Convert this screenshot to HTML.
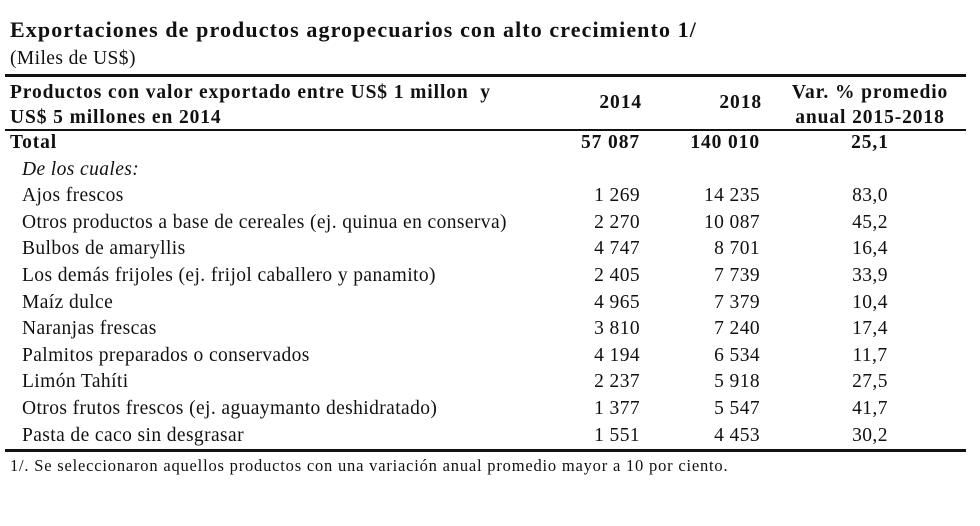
<!DOCTYPE html>
<html><head><meta charset="utf-8"><style>
body{margin:0;width:980px;height:526px;background:#fff;font-family:"Liberation Serif",serif;color:#111;position:relative;overflow:hidden}
.a{position:absolute;white-space:nowrap}
.t{font-weight:bold;font-size:22px;letter-spacing:1.1px}
.r{font-size:19.5px;letter-spacing:0.4px}
.b{font-weight:bold;letter-spacing:0.9px}
.n{text-align:right}
.c{text-align:center}
.line{position:absolute;left:5px;width:961px;background:#111}
</style></head><body>
<div class="a t" style="left:10px;top:17px">Exportaciones de productos agropecuarios con alto crecimiento 1/</div>
<div class="a r" style="left:10px;top:48px">(Miles de US$)</div>
<div class="line" style="top:74px;height:3px"></div>
<div class="a r b" style="left:10px;top:80px;line-height:25px">Productos con valor exportado entre US$ 1 millon&nbsp; y<br>US$ 5 millones en 2014</div>
<div class="a r b n" style="left:560px;width:82px;top:92px">2014</div>
<div class="a r b n" style="left:680px;width:82px;top:92px">2018</div>
<div class="a r b c" style="left:770px;width:200px;top:80px;line-height:25px">Var. % promedio<br>anual 2015-2018</div>
<div class="line" style="top:129px;height:1.5px"></div>
<div id="rows"></div>
<div class="line" style="top:449px;height:3px"></div>
<div class="a" style="left:10px;top:456px;font-size:16.5px;letter-spacing:0.8px">1/. Se seleccionaron aquellos productos con una variación anual promedio mayor a 10 por ciento.</div>
<script>
const products=["Total","De los cuales:","Ajos frescos","Otros productos a base de cereales (ej. quinua en conserva)","Bulbos de amaryllis","Los demás frijoles (ej. frijol caballero y panamito)","Maíz dulce","Naranjas frescas","Palmitos preparados o conservados","Limón Tahíti","Otros frutos frescos (ej. aguaymanto deshidratado)","Pasta de caco sin desgrasar"];
const v2014=["57 087","","1 269","2 270","4 747","2 405","4 965","3 810","4 194","2 237","1 377","1 551"];
const v2018=["140 010","","14 235","10 087","8 701","7 739","7 379","7 240","6 534","5 918","5 547","4 453"];
const varPct=["25,1","","83,0","45,2","16,4","33,9","10,4","17,4","11,7","27,5","41,7","30,2"];
const host=document.getElementById('rows');
products.forEach((p,i)=>{
  const top=132+i*26.6;
  const row=document.createElement('div');
  
  
  const mk=(txt,cls,style)=>{const d=document.createElement('div');d.className='a r '+cls;d.style.cssText=style+';top:'+top+'px';d.textContent=txt;row.appendChild(d);return d;};
  const bold=i===0?' b':'';
  const lab=mk(p,bold,'left:'+(i===0?10:22)+'px'+(i===1?';font-style:italic':''));
  
  
  const c1=mk(v2014[i],'n'+bold,'left:540px;width:100px');
  
  
  const c2=mk(v2018[i],'n'+bold,'left:660px;width:100px');
  
  
  const c3=mk(varPct[i],'c'+bold,'left:820px;width:100px');
  
  
  host.appendChild(row);
});
</script>
</body></html>
